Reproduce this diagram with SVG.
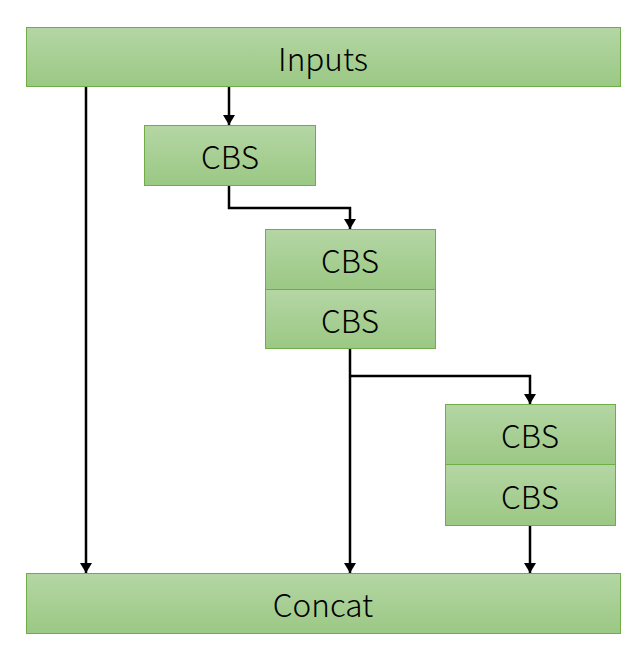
<svg xmlns="http://www.w3.org/2000/svg" width="638" height="649" viewBox="0 0 638 649">
<defs>
<linearGradient id="g" x1="0" y1="0" x2="0" y2="1">
<stop offset="0" stop-color="#b4d6a4"/>
<stop offset="1" stop-color="#9bc884"/>
</linearGradient>
<marker id="ah" viewBox="0 0 10 12" refX="10" refY="6" markerWidth="12" markerHeight="12" markerUnits="userSpaceOnUse" orient="auto">
<path d="M0,0 L10,6 L0,12 Z" fill="#000"/>
</marker>
<style>
.box{fill:url(#g);stroke:#70ad47;stroke-width:1}
.lbl{font-family:"Noto Sans CJK SC","Noto Sans",sans-serif;font-size:31.5px;font-weight:300;fill:#000;text-anchor:middle;dominant-baseline:central}
.c{fill:none;stroke:#000;stroke-width:2.5;marker-end:url(#ah)}
</style>
</defs>
<rect width="638" height="649" fill="#fff"/>
<g id="connectors">
<path class="c" d="M86,86 V573"/>
<path class="c" d="M229,86 V125"/>
<path class="c" d="M229,185 V208 H350 V229"/>
<path class="c" d="M350,348 V573"/>
<path class="c" d="M350,376 H530 V404"/>
<path class="c" d="M530,525 V573"/>
</g>
<g id="inputs"><rect class="box" x="26.5" y="27.5" width="594" height="59"/><text class="lbl" x="323" y="57">Inputs</text></g>
<g id="cbs1"><rect class="box" x="144.5" y="125.5" width="171" height="60"/><text class="lbl" x="230" y="155">CBS</text></g>
<g id="cbs2a"><rect class="box" x="265.5" y="229.5" width="170" height="60"/><text class="lbl" x="350" y="259">CBS</text></g>
<g id="cbs2b"><rect class="box" x="265.5" y="289.5" width="170" height="59"/><text class="lbl" x="350" y="319">CBS</text></g>
<g id="cbs3a"><rect class="box" x="445.5" y="404.5" width="170" height="60"/><text class="lbl" x="530" y="434">CBS</text></g>
<g id="cbs3b"><rect class="box" x="445.5" y="464.5" width="170" height="61"/><text class="lbl" x="530" y="495">CBS</text></g>
<g id="concat"><rect class="box" x="26.5" y="573.5" width="594" height="60"/><text class="lbl" x="323" y="603">Concat</text></g>
</svg>
